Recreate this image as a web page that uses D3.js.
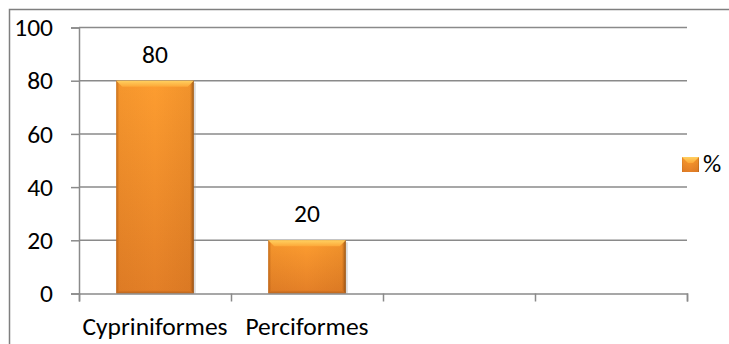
<!DOCTYPE html>
<html>
  <head>
    <meta charset="utf-8">
    <title>Orders bar chart</title>
    <script type="text/javascript" src="https://cdn.jsdelivr.net/npm/d3@7/dist/d3.min.js"></script>
    <style>
      body { margin: 0; background: #fff; }
      text { font-family: Carlito, "Open Sans", Lato, sans-serif; fill: #000; }
    </style>
  </head>
  <body>
  </body>
  <script>

    // Chart data
    var categories = ["Cypriniformes", "Perciformes", "", " "];
    var values = [80, 20, null, null];
    var yTicks = [0, 20, 40, 60, 80, 100];
    var seriesName = "%";

    var width = 729, height = 344;
    var plotLeft = 79, plotRight = 687, plotTop = 27.5, plotBottom = 293.5;
    var fontSize = "25.5px";

    var svg = d3.select("body").append("svg")
        .attr("width", width)
        .attr("height", height);

    // gradients for the bevelled bars
    var defs = svg.append("defs");
    var gv = defs.append("linearGradient").attr("id", "barFill")
        .attr("x1", "0").attr("x2", "0").attr("y1", "0").attr("y2", "1");
    gv.append("stop").attr("offset", "0%").attr("stop-color", "#fd9d30");
    gv.append("stop").attr("offset", "100%").attr("stop-color", "#e37f27");
    var gh = defs.append("linearGradient").attr("id", "barEdge")
        .attr("x1", "0").attr("x2", "1").attr("y1", "0").attr("y2", "0");
    gh.append("stop").attr("offset", "0%").attr("stop-color", "#9a4a0a").attr("stop-opacity", 0.55);
    gh.append("stop").attr("offset", "4%").attr("stop-color", "#9a4a0a").attr("stop-opacity", 0.08);
    gh.append("stop").attr("offset", "50%").attr("stop-color", "#9a4a0a").attr("stop-opacity", 0);
    gh.append("stop").attr("offset", "95%").attr("stop-color", "#9a4a0a").attr("stop-opacity", 0.12);
    gh.append("stop").attr("offset", "100%").attr("stop-color", "#6a3a10").attr("stop-opacity", 0.7);
    var g2 = defs.append("linearGradient").attr("id", "bevelTop")
        .attr("x1", "0").attr("x2", "0").attr("y1", "0").attr("y2", "1");
    g2.append("stop").attr("offset", "0%").attr("stop-color", "#ffd060");
    g2.append("stop").attr("offset", "100%").attr("stop-color", "#fda838");
    var g3 = defs.append("linearGradient").attr("id", "bevelBottom")
        .attr("x1", "0").attr("x2", "0").attr("y1", "0").attr("y2", "1");
    g3.append("stop").attr("offset", "0%").attr("stop-color", "#dd7a24");
    g3.append("stop").attr("offset", "100%").attr("stop-color", "#b8651f");

    // outer frame
    svg.append("rect")
        .attr("x", 9.5).attr("y", 9.5)
        .attr("width", 800).attr("height", 400)
        .attr("fill", "none")
        .attr("stroke", "#7f7f7f")
        .attr("stroke-width", 1.5);

    var x = d3.scaleBand().domain(categories).range([plotLeft, plotRight]).paddingInner(0.49).paddingOuter(0.245);
    var y = d3.scaleLinear().domain([0, 100]).range([plotBottom, plotTop]);

    // gridlines
    svg.selectAll("line.grid")
        .data(yTicks.slice(1))
        .enter().append("line")
        .attr("class", "grid")
        .attr("x1", plotLeft).attr("x2", plotRight)
        .attr("y1", function (d) { return y(d); })
        .attr("y2", function (d) { return y(d); })
        .attr("stroke", "#8a8a8a")
        .attr("stroke-width", 1.5);

    // y axis
    var yAxis = svg.append("g")
        .attr("transform", "translate(" + plotLeft + ",0)")
        .call(d3.axisLeft(y).tickValues(yTicks).tickSize(8).tickPadding(18));
    yAxis.select(".domain").attr("stroke", "#8a8a8a").attr("stroke-width", 1.5);
    yAxis.selectAll(".tick line").attr("stroke", "#8a8a8a").attr("stroke-width", 1.5);
    yAxis.selectAll(".tick text").style("font-size", fontSize).attr("fill", "#000")
        .attr("font-family", null);

    // bars
    var barData = categories.map(function (c, i) { return { cat: c, v: values[i] }; })
        .filter(function (d) { return d.v !== null; });

    var bars = svg.selectAll("g.bar")
        .data(barData)
        .enter().append("g")
        .attr("class", "bar");

    var bev = 6;
    // faint shadow to the right
    bars.append("rect")
        .attr("x", function (d) { return x(d.cat) + 2; })
        .attr("y", function (d) { return y(d.v) + 2; })
        .attr("width", x.bandwidth())
        .attr("height", function (d) { return y(0) - y(d.v) - 2; })
        .attr("fill", "#9a9a9a").attr("opacity", 0.35);
    bars.append("rect")
        .attr("x", function (d) { return x(d.cat); })
        .attr("y", function (d) { return y(d.v); })
        .attr("width", x.bandwidth())
        .attr("height", function (d) { return y(0) - y(d.v); })
        .attr("fill", "url(#barFill)");
    bars.append("rect")
        .attr("x", function (d) { return x(d.cat); })
        .attr("y", function (d) { return y(d.v); })
        .attr("width", x.bandwidth())
        .attr("height", function (d) { return y(0) - y(d.v); })
        .attr("fill", "url(#barEdge)");
    bars.append("path")
        .attr("d", function (d) {
          var x0 = x(d.cat), x1 = x0 + x.bandwidth(), t = y(d.v);
          return "M" + x0 + "," + t + "L" + x1 + "," + t + "L" + (x1 - bev) + "," + (t + bev) + "L" + (x0 + bev) + "," + (t + bev) + "Z";
        })
        .attr("fill", "url(#bevelTop)");
    bars.append("path")
        .attr("d", function (d) {
          var x0 = x(d.cat), x1 = x0 + x.bandwidth(), b = y(0);
          return "M" + x0 + "," + b + "L" + x1 + "," + b + "L" + (x1 - 3) + "," + (b - 3) + "L" + (x0 + 3) + "," + (b - 3) + "Z";
        })
        .attr("fill", "url(#bevelBottom)");

    // x axis: ticks at category boundaries
    var xb = d3.scaleLinear().domain([0, categories.length]).range([plotLeft, plotRight]);
    var xAxis = svg.append("g")
        .attr("transform", "translate(0," + plotBottom + ")")
        .call(d3.axisBottom(xb).ticks(categories.length).tickSize(8).tickFormat(""));
    xAxis.select(".domain").attr("stroke", "#8a8a8a").attr("stroke-width", 1.5);
    xAxis.selectAll(".tick line").attr("stroke", "#8a8a8a").attr("stroke-width", 1.5);

    svg.selectAll("text.cat")
        .data(categories.filter(function (c) { return c.trim() !== ""; }))
        .enter().append("text")
        .attr("class", "cat")
        .attr("x", function (d) { return x(d) + x.bandwidth() / 2; })
        .attr("y", 335)
        .attr("text-anchor", "middle")
        .style("font-size", fontSize)
        .text(function (d) { return d; });

    // value labels
    bars.append("text")
        .attr("x", function (d) { return x(d.cat) + x.bandwidth() / 2; })
        .attr("y", function (d) { return y(d.v) - 18; })
        .attr("text-anchor", "middle")
        .style("font-size", fontSize)
        .text(function (d) { return d.v; });

    // legend
    var legend = svg.append("g").attr("transform", "translate(682,157)");
    legend.append("rect")
        .attr("width", 17).attr("height", 15)
        .attr("fill", "url(#barFill)");
    legend.append("rect")
        .attr("width", 17).attr("height", 15)
        .attr("fill", "url(#barEdge)");
    legend.append("path")
        .attr("d", "M0,0L17,0L11,6L6,6Z")
        .attr("fill", "url(#bevelTop)");
    legend.append("text")
        .attr("x", 21).attr("y", 15)
        .style("font-size", fontSize)
        .text(seriesName);

  </script>
</html>
